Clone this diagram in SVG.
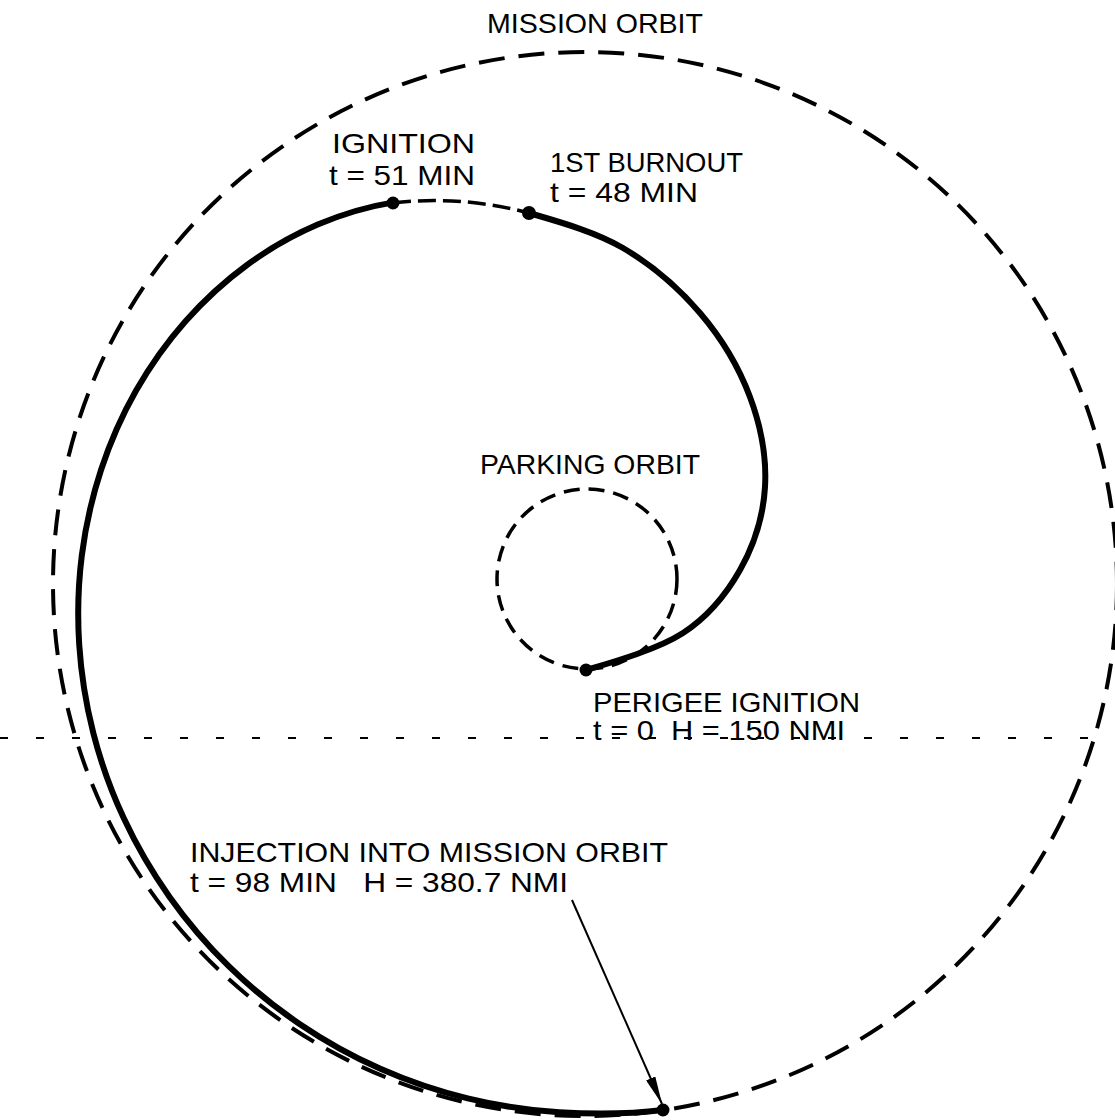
<svg xmlns="http://www.w3.org/2000/svg" width="1115" height="1120" viewBox="0 0 1115 1120">
<style>
.lbl{font-family:"Liberation Sans","DejaVu Sans",sans-serif;font-size:28px;fill:#000;}
.orbit{fill:none;stroke:#000;}
.burn{fill:none;stroke:#000;stroke-width:6;stroke-linecap:round;stroke-linejoin:round;}
.dot{fill:#000;}
</style>
<defs>
<marker id="arrow" viewBox="0 0 28 10" refX="28" refY="5" markerWidth="28" markerHeight="10" markerUnits="userSpaceOnUse" orient="auto">
<path d="M0,0 L28,5 L0,10 z" fill="#000"/>
</marker>
</defs>
<rect width="1115" height="1120" fill="#fff"/>

<g id="reference-line">
<line x1="0" y1="738" x2="1115" y2="738" stroke="#000" stroke-width="2" stroke-dasharray="8 28"/>
</g>

<g id="mission-orbit">
<circle class="orbit" cx="585" cy="584" r="532" stroke-width="4" stroke-dasharray="26 14"/>
<text class="lbl" x="487" y="33" font-size="25" textLength="216" lengthAdjust="spacingAndGlyphs">MISSION ORBIT</text>
</g>

<g id="parking-orbit">
<circle class="orbit" cx="587" cy="579" r="90" stroke-width="3.5" stroke-dasharray="16 9"/>
<text class="lbl" x="480" y="474" textLength="220" lengthAdjust="spacingAndGlyphs">PARKING ORBIT</text>
</g>

<g id="connectors">
<path id="first-burn" class="burn" d="M586,670 C609.8,663 657.3,649.7 683,633 C708.7,616.3 726.3,594.3 740,570 C753.7,545.7 763.3,515.8 765,487 C766.7,458.2 760.8,426 750,397 C739.2,368 721.2,337.8 700,313 C678.8,288.2 651.5,264.7 623,248 C594.5,231.3 556.2,221 529,213"/>
<path id="coast" class="orbit" stroke-width="3.5" stroke-dasharray="18 7" d="M393,203 Q461,195 529,213"/>
<path id="second-burn" class="burn" d="M393.6,202.4 C368.2,206.5 342.1,214.2 317.7,224.6 C293.3,235 269,248.9 247,265 C225,281.1 204,300.4 185.5,321.3 C167,342.2 150.2,365.9 136.1,390.6 C122,415.4 110.2,442.3 101.1,469.8 C92.05,497.3 85.5,526.4 81.8,555.5 C78.15,584.6 77.3,614.8 79.2,644.4 C81.1,674 85.9,704 93.3,733 C100.7,762 111,790.8 123.7,818.1 C136.4,845.4 151.9,872 169.4,896.7 C186.9,921.4 207,945 228.7,966.2 C250.5,987.5 274.6,1007.1 299.9,1024.2 C325.2,1041.3 352.4,1056.4 380.4,1068.8 C408.4,1081.2 437.9,1091.2 467.7,1098.4 C497.5,1105.6 526.6,1110.4 559.2,1112.3 C591.8,1114.2 631,1114 663,1110"/>
<line id="injection-pointer" x1="572" y1="900" x2="662" y2="1104" stroke="#000" stroke-width="2" marker-end="url(#arrow)"/>
</g>

<g id="perigee-ignition">
<circle class="dot" cx="586" cy="670" r="6.5"/>
<text class="lbl" x="593" y="712" textLength="267" lengthAdjust="spacingAndGlyphs">PERIGEE IGNITION</text>
<text class="lbl" x="593" y="740" textLength="252" lengthAdjust="spacingAndGlyphs" xml:space="preserve">t = 0  H = 150 NMI</text>
</g>

<g id="first-burnout">
<circle class="dot" cx="529" cy="213" r="7"/>
<text class="lbl" x="550" y="172" textLength="193" lengthAdjust="spacingAndGlyphs">1ST BURNOUT</text>
<text class="lbl" x="550" y="202" textLength="148" lengthAdjust="spacingAndGlyphs">t = 48 MIN</text>
</g>

<g id="ignition">
<circle class="dot" cx="393" cy="203" r="6.5"/>
<text class="lbl" x="332" y="153" textLength="143" lengthAdjust="spacingAndGlyphs">IGNITION</text>
<text class="lbl" x="329" y="185" textLength="146" lengthAdjust="spacingAndGlyphs">t = 51 MIN</text>
</g>

<g id="injection">
<circle class="dot" cx="663" cy="1110" r="6.5"/>
<text class="lbl" x="190" y="862" font-size="27" textLength="478" lengthAdjust="spacingAndGlyphs">INJECTION INTO MISSION ORBIT</text>
<text class="lbl" x="190" y="892" font-size="27" textLength="378" lengthAdjust="spacingAndGlyphs" xml:space="preserve">t = 98 MIN   H = 380.7 NMI</text>
</g>
</svg>
